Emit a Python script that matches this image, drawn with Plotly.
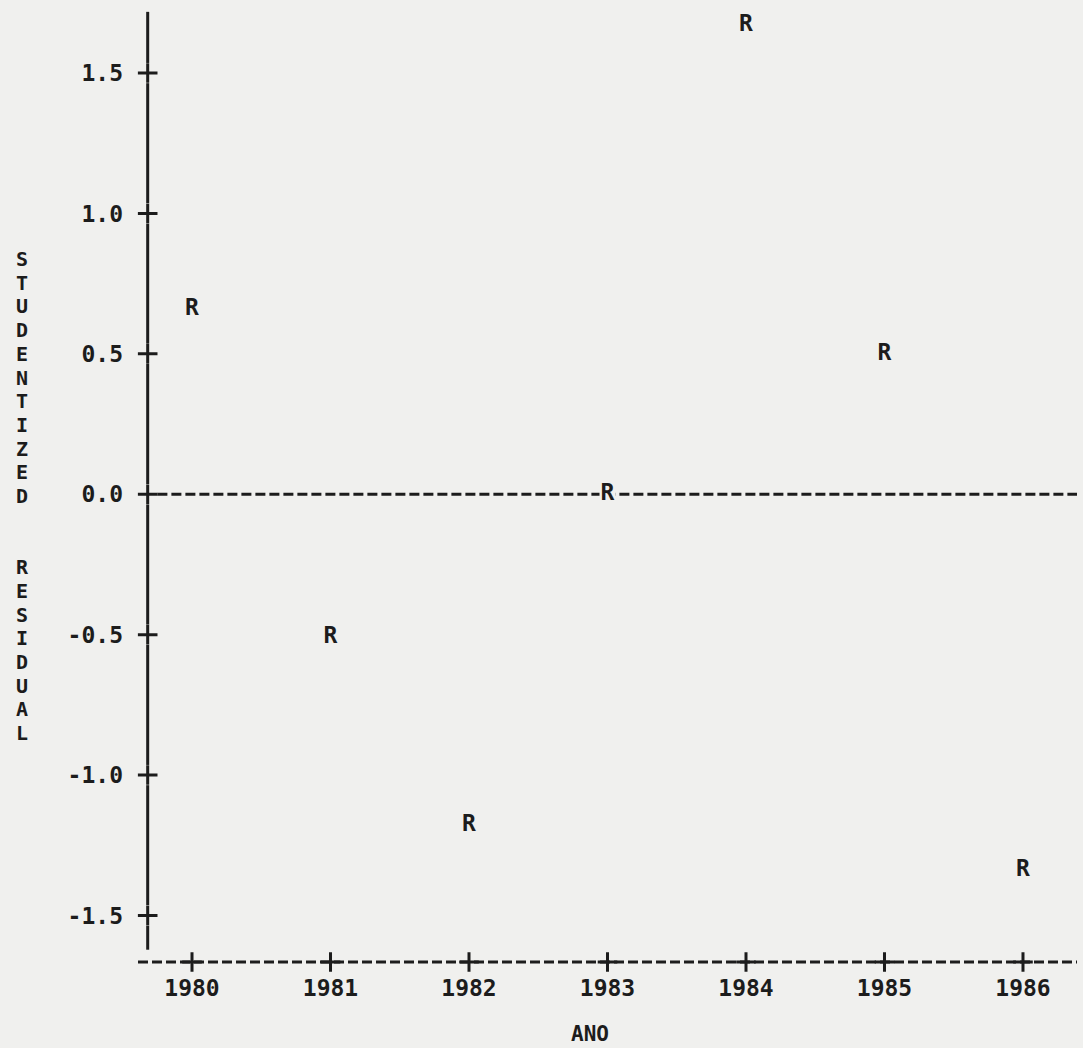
import plotly.graph_objects as go

# ---- data ----
years = [1980, 1981, 1982, 1983, 1984, 1985, 1986]
residuals = [0.66, -0.51, -1.18, 0.0, 1.67, 0.50, -1.34]
point_labels = ["R"] * len(years)
y_ticks = [1.5, 1.0, 0.5, 0.0, -0.5, -1.0, -1.5]
y_tick_labels = ["1.5", "1.0", "0.5", "0.0", "-0.5", "-1.0", "-1.5"]
x_tick_labels = [str(y) for y in years]

# ---- style ----
BG = "#f0f0ee"
INK = "#1c1c1c"
FONT = "DejaVu Sans Mono"
FS = 23
W, H = 1083, 1048
ML, MR, MT, MB = 138, 6, 10, 82

X_RANGE = [1979.61, 1986.39]
Y_RANGE = [-1.68, 1.7246]
AXIS_X = 1979.68          # vertical printer axis position
AXIS_TOP = 1.718
AXIS_BOTTOM = -1.622
BASE_Y = -1.666           # bottom printer axis
GAP = 0.036

fig = go.Figure()

# vertical axis segments broken around the '+' tick marks
stops = [AXIS_TOP] + [v for t in y_ticks for v in (t + GAP, t - GAP)] + [AXIS_BOTTOM]
for a, b in zip(stops[0::2], stops[1::2]):
    fig.add_shape(type="line", xref="x", yref="y", x0=AXIS_X, x1=AXIS_X, y0=a, y1=b,
                  line=dict(color=INK, width=3), layer="below")

# zero reference dashed line
fig.add_shape(type="line", xref="x", yref="y", x0=AXIS_X + 0.07, x1=X_RANGE[1], y0=0, y1=0,
              line=dict(color=INK, width=3, dash="10px,4px"), layer="below")
# bottom dashed axis
fig.add_shape(type="line", xref="paper", yref="y", x0=0, x1=1, y0=BASE_Y, y1=BASE_Y,
              line=dict(color=INK, width=3, dash="10px,4px"), layer="below")

# tick pluses
fig.add_trace(go.Scatter(x=[AXIS_X] * len(y_ticks), y=y_ticks, mode="markers",
                         marker=dict(symbol="cross-thin", size=14, line=dict(color=INK, width=3)),
                         hoverinfo="skip", showlegend=False, cliponaxis=False))
fig.add_trace(go.Scatter(x=years, y=[BASE_Y] * len(years), mode="markers",
                         marker=dict(symbol="cross-thin", size=14, line=dict(color=INK, width=3)),
                         hoverinfo="skip", showlegend=False, cliponaxis=False))

# residual points printed as 'R'
fig.add_trace(go.Scatter(x=years, y=residuals, mode="markers+text",
                         text=[f"<b>{t}</b>" for t in point_labels],
                         textposition="middle center",
                         marker=dict(symbol="square", size=16, color=BG),
                         textfont=dict(family=FONT, size=FS, color=INK),
                         showlegend=False, cliponaxis=False))

# y-axis title, printed one letter per line
title = "STUDENTIZED RESIDUAL"
for i, ch in enumerate(title):
    if ch == " ":
        continue
    idx = i if i < 11 else i + 1
    py = 259 + 23.7 * idx
    fig.add_annotation(text=f"<b>{ch}</b>", xref="paper", yref="paper", x=0, y=1,
                       xshift=-(ML - 22), yshift=-(py - MT),
                       xanchor="center", yanchor="middle", showarrow=False,
                       font=dict(family=FONT, size=20, color=INK))

fig.add_annotation(text="<b>ANO</b>", xref="x", yref="paper", x=1982.87, y=0,
                   yshift=-(1034 - (H - MB)),
                   xanchor="center", yanchor="middle", showarrow=False,
                   font=dict(family=FONT, size=21, color=INK))

fig.update_layout(
    width=W, height=H,
    margin=dict(l=ML, r=MR, t=MT, b=MB),
    paper_bgcolor=BG, plot_bgcolor=BG,
    showlegend=False,
    xaxis=dict(range=X_RANGE, tickvals=years, ticktext=[f"<b>{t}</b>" for t in x_tick_labels],
               showgrid=False, zeroline=False, showline=False, ticks="",
               ticklabelstandoff=6,
               tickfont=dict(family=FONT, size=FS, color=INK)),
    yaxis=dict(range=Y_RANGE, tickvals=y_ticks, ticktext=[f"<b>{t}</b>" for t in y_tick_labels],
               showgrid=False, zeroline=False, showline=False, ticks="",
               ticklabelstandoff=14,
               tickfont=dict(family=FONT, size=FS, color=INK)),
)

fig.write_html(
    "out.html",
    config={"displayModeBar": False},
    post_script="document.body.style.margin='0';document.body.style.overflow='hidden';"
                "document.body.style.background='" + BG + "';",
)
